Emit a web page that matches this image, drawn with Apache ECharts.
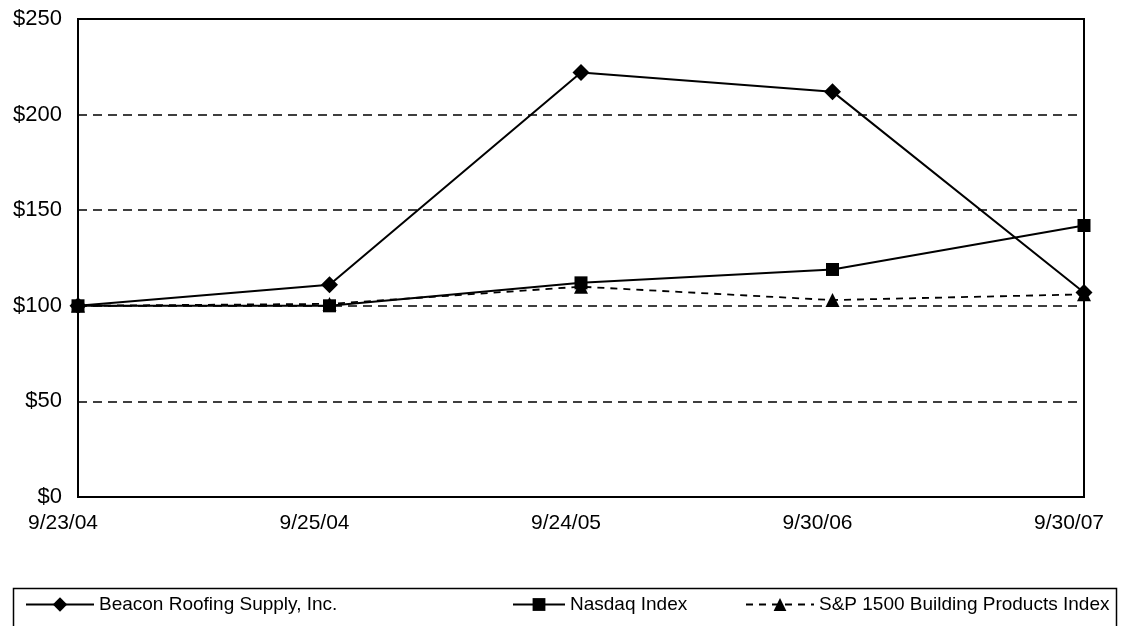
<!DOCTYPE html>
<html>
<head>
<meta charset="utf-8">
<script src="https://cdn.jsdelivr.net/npm/echarts@6/dist/echarts.min.js"></script>
<style>html,body{margin:0;padding:0;background:#fff}#c{width:1123px;height:626px}</style>
</head>
<body>
<div id="c"></div>
<script>
var categories = ['9/23/04', '9/25/04', '9/24/05', '9/30/06', '9/30/07'];
var beacon = [100, 111, 222, 212, 107];
var nasdaq = [100, 100, 112, 119, 142];
var sp1500 = [100, 101, 110, 103, 106];
var seriesNames = ['Beacon Roofing Supply, Inc.', 'Nasdaq Index', 'S&P 1500 Building Products Index'];
var yTicks = [0, 50, 100, 150, 200, 250];

var chart = echarts.init(document.getElementById('c'), null, {renderer: 'canvas'});
var font = 'Liberation Sans, Arial, Helvetica, sans-serif';
var legendText = {color: '#000', fontSize: 19, fontFamily: font};
var option = {
  backgroundColor: '#fff',
  animation: false,
  grid: {left: 78, right: 39, top: 19, bottom: 129, show: true, borderColor: '#000', borderWidth: 2},
  xAxis: {
    type: 'category', data: categories, boundaryGap: false,
    axisLine: {lineStyle: {color: '#000', width: 2}},
    axisTick: {show: false},
    axisLabel: {color: '#000', fontSize: 21, fontFamily: font, margin: 16, padding: [0, 30, 0, 0]},
    splitLine: {show: false}
  },
  yAxis: {
    type: 'value', min: yTicks[0], max: yTicks[yTicks.length - 1], interval: 50,
    axisLine: {show: true, lineStyle: {color: '#000', width: 2}},
    axisTick: {show: false},
    axisLabel: {color: '#000', fontSize: 22, fontFamily: font, margin: 16, formatter: function (v) { return '$' + v; }},
    splitLine: {show: true, lineStyle: {color: '#000', width: 1.5, type: [9, 6]}}
  },
  legend: [
    {data: [seriesNames[0]], left: 25, top: 595, itemWidth: 68, itemHeight: 18, itemGap: 0, textStyle: legendText, padding: 0},
    {data: [seriesNames[1]], left: 512, top: 595, itemWidth: 52, itemHeight: 16, itemGap: 0, textStyle: legendText, padding: 0},
    {data: [seriesNames[2]], left: 745, top: 595, itemWidth: 68, itemHeight: 16, itemGap: 0, textStyle: legendText, padding: 0}
  ],
  graphic: [{type: 'rect', shape: {x: 13.5, y: 588.5, width: 1103, height: 40}, style: {fill: 'none', stroke: '#000', lineWidth: 1.5}, silent: true}],
  series: [
    {name: seriesNames[0], type: 'line', data: beacon, symbol: 'diamond', symbolSize: 17,
     lineStyle: {color: '#000', width: 2}, itemStyle: {color: '#000'}, z: 3},
    {name: seriesNames[1], type: 'line', data: nasdaq, symbol: 'rect', symbolSize: 13,
     lineStyle: {color: '#000', width: 2}, itemStyle: {color: '#000'}, z: 2},
    {name: seriesNames[2], type: 'line', data: sp1500, symbol: 'triangle', symbolSize: 14,
     lineStyle: {color: '#000', width: 1.8, type: [7, 6]}, itemStyle: {color: '#000'}, z: 2}
  ]
};
chart.setOption(option);
</script>
</body>
</html>
